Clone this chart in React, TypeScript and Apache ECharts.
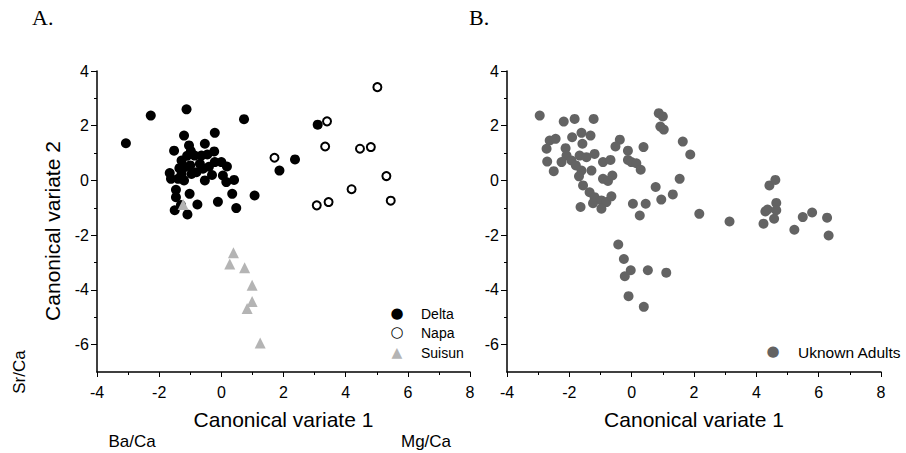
import React, { useEffect, useRef } from "react";
import * as echarts from "echarts";

const deltaPoints: number[][] = [
  [-3.07, 1.36], [-2.27, 2.37], [-1.12, 2.6], [0.73, 2.24], [-1.2, 1.64], [-0.21, 1.74],
  [-1.52, 1.09], [-1.04, 1.28], [-0.98, 1.07], [-0.53, 1.34], [-1.28, 0.73], [-0.86, 0.91],
  [-0.64, 0.91], [-0.23, 1.06], [-0.69, 0.61], [-0.21, 0.67], [0.0, 0.67], [0.18, 0.51],
  [-0.59, 0.43], [-1.18, 0.49], [-1.66, 0.27], [-1.62, 0.06], [-1.28, 0.24], [-0.96, 0.24],
  [-1.39, 0.06], [-0.53, 0.0], [0.05, 0.18], [0.16, -0.06], [0.41, 0.02], [-1.46, -0.34],
  [-1.02, -0.49], [0.35, -0.49], [1.07, -0.55], [-1.46, -0.61], [-0.11, -0.78], [-0.77, -0.88],
  [-1.5, -1.09], [-1.09, -1.24], [0.48, -1.01], [1.87, 0.36], [2.37, 0.77], [3.1, 2.04],
  [-1.35, 0.45], [-1.1, 0.9], [-0.4, 0.5], [-0.8, 0.3], [-1.2, 0.0], [-0.3, 0.2],
  [-1.3, -0.9], [-0.45, 0.95], [-1.0, 0.55],
];
const napaPoints: number[][] = [
  [5.02, 3.41], [3.4, 2.16], [3.34, 1.24], [1.71, 0.83], [4.46, 1.16], [4.81, 1.22],
  [5.31, 0.16], [4.19, -0.32], [3.07, -0.91], [3.45, -0.79], [5.45, -0.74],
];
const suisunPoints: number[][] = [
  [0.39, -2.64], [0.27, -3.05], [0.75, -3.19], [0.99, -3.83], [0.99, -4.42], [0.83, -4.68],
  [1.25, -5.94], [-1.23, -0.88],
];
const unknownPoints: number[][] = [
  [-2.95, 2.37], [-2.18, 2.15], [-1.83, 2.25], [-1.22, 2.25], [0.87, 2.46], [1.0, 2.34],
  [0.92, 1.97], [1.03, 1.86], [-2.63, 1.46], [-2.44, 1.52], [-2.73, 1.16], [-1.91, 1.58],
  [-1.61, 1.74], [-1.32, 1.64], [-1.58, 1.34], [-0.38, 1.49], [-0.52, 1.24], [-0.12, 1.09],
  [0.38, 1.22], [1.64, 1.42], [1.88, 0.95], [-2.12, 1.18], [-2.09, 0.91], [-2.71, 0.69],
  [-2.5, 0.34], [-2.25, 0.67], [-1.93, 0.73], [-1.67, 0.91], [-1.45, 0.85], [-1.19, 0.97],
  [-1.79, 0.55], [-1.61, 0.36], [-1.29, 0.36], [-1.69, 0.15], [-1.56, -0.18], [-0.92, 0.67],
  [-0.68, 0.75], [-0.12, 0.75], [-0.01, 0.67], [0.15, 0.63], [0.29, 0.39], [-0.92, 0.06],
  [-0.76, -0.02], [-0.62, 0.18], [-1.35, -0.43], [-1.19, -0.61], [-1.24, -0.83], [-0.97, -0.73],
  [-0.81, -0.79], [-0.65, -0.58], [-1.64, -0.97], [-0.97, -1.03], [0.04, -0.85], [0.45, -0.85],
  [0.26, -1.28], [0.77, -0.24], [0.95, -0.7], [1.32, -0.51], [1.54, 0.06], [2.17, -1.22],
  [3.14, -1.5], [4.42, -0.18], [4.61, 0.02], [4.64, -0.82], [4.29, -1.13], [4.36, -1.06],
  [4.64, -1.09], [4.57, -1.4], [4.23, -1.58], [5.22, -1.8], [5.49, -1.34], [5.79, -1.17],
  [6.27, -1.36], [6.32, -2.01], [-0.43, -2.34], [-0.25, -2.87], [-0.03, -3.28], [-0.22, -3.5],
  [0.52, -3.28], [1.11, -3.37], [-0.1, -4.23], [0.39, -4.62],
];

const xMin = -4;
const xMax = 8;
const yMin = -7;
const yMax = 4;
const yMajorTicks = [-6, -4, -2, 0, 2, 4];
const yMinorTicks = [-5, -3, -1, 1, 3];

const SANS = "'Liberation Sans', Arial, Helvetica, sans-serif";
const SERIF = "'Liberation Serif', 'DejaVu Serif', serif";
const SYM = "'DejaVu Sans', sans-serif";

const legendRows = [
  { label: "Delta", glyph: "●", color: "#000", glyphSize: 15, symX: 397, textX: 421, y: 314, fontSize: 14 },
  { label: "Napa", glyph: "○", color: "#000", glyphSize: 15, symX: 397, textX: 421, y: 333, fontSize: 14 },
  { label: "Suisun", glyph: "▲", color: "#b4b4b4", glyphSize: 14, symX: 397, textX: 421, y: 353, fontSize: 14 },
  { label: "Uknown Adults", glyph: "●", color: "#636363", glyphSize: 15, symX: 773, textX: 798, y: 352, fontSize: 15.5 },
];

const BLACK_LINE = { color: "#000", width: 1.5 };
const BLACK_TICK = { color: "#000", width: 1 };

// For each panel: a hidden data axis pair, a line/tick axis pair (no labels), and a label axis pair.
function panelXAxes(gridIndex: number) {
  const base = { type: "value", gridIndex, min: xMin, max: xMax, interval: 2, position: "bottom", splitLine: { show: false } };
  return [
    { ...base, show: false, axisLine: { show: false, onZero: false } },
    {
      ...base,
      axisLine: { show: true, onZero: false, lineStyle: BLACK_LINE },
      axisTick: { show: true, length: 5, lineStyle: BLACK_TICK },
      minorTick: { show: true, splitNumber: 2, length: 3, lineStyle: BLACK_TICK },
      axisLabel: { show: false },
    },
    {
      ...base,
      axisLine: { show: false, onZero: false },
      axisTick: { show: false },
      axisLabel: { show: true, fontSize: 16, color: "#000", fontFamily: SANS, margin: 12 },
      name: "Canonical variate 1",
      nameLocation: "middle",
      nameGap: 37,
      nameTextStyle: { fontSize: 21, color: "#000", fontFamily: SANS },
    },
  ];
}

function panelYAxes(gridIndex: number) {
  const base = { type: "value", gridIndex, min: yMin, max: yMax, position: "left", splitLine: { show: false } };
  return [
    { ...base, show: false, axisLine: { show: false, onZero: false } },
    {
      ...base,
      axisLine: { show: true, onZero: false, lineStyle: BLACK_LINE },
      axisTick: { show: true, length: 6, customValues: yMajorTicks, lineStyle: BLACK_TICK },
      axisLabel: { show: false },
    },
    {
      ...base,
      axisLine: { show: false, onZero: false },
      axisTick: { show: true, length: 3, customValues: yMinorTicks, lineStyle: BLACK_TICK },
      axisLabel: { show: false },
    },
    {
      ...base,
      axisLine: { show: false, onZero: false },
      axisTick: { show: false },
      axisLabel: { show: true, fontSize: 16, color: "#000", fontFamily: SANS, margin: 8, customValues: yMajorTicks },
    },
  ];
}

function hiddenAxis(gridIndex: number, extra: any = {}) {
  return {
    type: "value",
    gridIndex,
    min: 0,
    max: 1,
    axisLine: { show: false, onZero: false },
    axisTick: { show: false },
    axisLabel: { show: false },
    splitLine: { show: false },
    ...extra,
  };
}

export default function App() {
  const ref = useRef<HTMLDivElement>(null);
  useEffect(() => {
    if (!ref.current) return;
    const chart = echarts.init(ref.current, null, { renderer: "svg" });

    const grids: any[] = [
      { left: 97, top: 71, width: 373, height: 301 },
      { left: 507, top: 71, width: 374, height: 301 },
    ];
    // xAxis: A = 0..2, B = 3..5 ; yAxis: A = 0..3, B = 4..7
    const xAxes: any[] = [...panelXAxes(0), ...panelXAxes(1)];
    const yAxes: any[] = [...panelYAxes(0), ...panelYAxes(1)];

    const addGrid = (g: any, xa: any, ya: any) => {
      const idx = grids.length;
      grids.push(g);
      xAxes.push(hiddenAxis(idx, { position: "bottom", ...xa }));
      yAxes.push(hiddenAxis(idx, { position: "left", ...ya }));
    };

    addGrid({ left: 97, top: 80, width: 10, height: 302 }, {}, {
      name: "Canonical variate 2",
      nameLocation: "middle",
      nameGap: 34,
      nameTextStyle: { fontSize: 21, color: "#000", fontFamily: SANS },
    });
    addGrid({ left: 97, top: 347, width: 10, height: 50 }, {}, {
      name: "Sr/Ca",
      nameLocation: "middle",
      nameGap: 69,
      nameTextStyle: { fontSize: 17, color: "#000", fontFamily: SANS },
    });

    const freeTexts = [
      { text: "A.", x: 32, y: 17, align: "left", size: 22, font: SERIF },
      { text: "B.", x: 469, y: 17, align: "left", size: 22, font: SERIF },
      { text: "Ba/Ca", x: 132, y: 441, align: "center", size: 17, font: SANS },
      { text: "Mg/Ca", x: 426, y: 441, align: "center", size: 17, font: SANS },
    ];
    freeTexts.forEach((t) => {
      addGrid({ left: t.x - 12, top: t.y - 2, width: 12, height: 2 }, {
        name: t.text,
        nameLocation: "end",
        nameGap: 0,
        nameTextStyle: { fontSize: t.size, color: "#000", fontFamily: t.font, align: t.align, verticalAlign: "middle" },
      }, {});
    });

    legendRows.forEach((r) => {
      const left = r.textX - 14;
      addGrid({ left, top: r.y - 2, width: 14, height: 2 }, {
        name: r.label,
        nameLocation: "end",
        nameGap: 0,
        nameTextStyle: { fontSize: r.fontSize, color: "#000", fontFamily: SANS, align: "left", verticalAlign: "middle" },
      }, {
        name: r.glyph,
        nameLocation: "middle",
        nameRotate: 0,
        nameGap: left - r.symX,
        nameTextStyle: { fontSize: r.glyphSize, color: r.color, fontFamily: SYM, align: "center", verticalAlign: "middle", fontWeight: r.glyph === "○" ? "bold" : "normal" },
      });
    });

    const option: any = {
      animation: false,
      grid: grids,
      xAxis: xAxes,
      yAxis: yAxes,
      series: [
        { name: "Delta", type: "scatter", clip: false, xAxisIndex: 0, yAxisIndex: 0, data: deltaPoints, symbol: "circle", symbolSize: 10, itemStyle: { color: "#000", opacity: 1 } },
        { name: "Napa", type: "scatter", clip: false, xAxisIndex: 0, yAxisIndex: 0, data: napaPoints, symbol: "circle", symbolSize: 8, itemStyle: { color: "#fff", borderColor: "#000", borderWidth: 2, opacity: 1 } },
        { name: "Suisun", type: "scatter", clip: false, xAxisIndex: 0, yAxisIndex: 0, data: suisunPoints, symbol: "triangle", symbolSize: 11, itemStyle: { color: "#b4b4b4", opacity: 1 } },
        { name: "Uknown Adults", type: "scatter", clip: false, xAxisIndex: 3, yAxisIndex: 4, data: unknownPoints, symbol: "circle", symbolSize: 10, itemStyle: { color: "#636363", opacity: 1 } },
      ],
    };
    chart.setOption(option);
    return () => chart.dispose();
  }, []);
  return (
    <div
      ref={ref}
      style={{ position: "fixed", left: 0, top: 0, width: 906, height: 453, background: "#fff" }}
    />
  );
}
